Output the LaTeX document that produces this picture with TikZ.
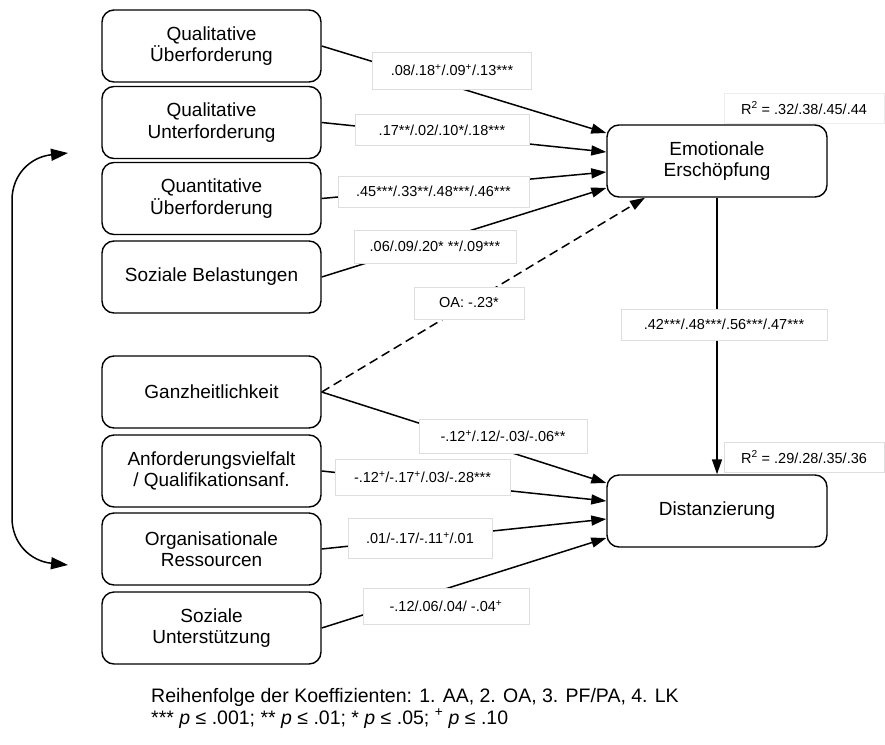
\documentclass[tikz,border=0pt]{standalone}
\usepackage{fontspec}
\setmainfont{Liberation Sans}
\usetikzlibrary{arrows.meta}

\begin{document}
\begin{tikzpicture}[x=1pt,y=-1pt,
  factor/.style={draw, line width=1.4pt, rounded corners=12pt,
    minimum width=219pt, minimum height=72pt, align=center,
    font=\fontsize{19}{21.5}\selectfont, inner sep=0pt},
  coef/.style={draw=black!13, line width=0.8pt, fill=white,
    font=\fontsize{14.5}{16}\selectfont, inner sep=0pt},
  effect/.style={line width=1.5pt, -{Triangle[length=15pt,width=10pt]}},
  corr/.style={line width=1.5pt,
    {Triangle[length=17pt,width=12pt]}-{Triangle[length=17pt,width=12pt]}},
]
\useasboundingbox (0,0) rectangle (885,744);

% stressors
\node[factor] (q1) at (211.5,46)    {Qualitative\\Überforderung};
\node[factor] (q2) at (211.5,122.5) {Qualitative\\Unterforderung};
\node[factor] (q3) at (211.5,198.5) {Quantitative\\Überforderung};
\node[factor] (q4) at (211.5,277)   {Soziale Belastungen};
% resources
\node[factor] (r1) at (211.5,392) {Ganzheitlichkeit};
\node[factor] (r2) at (211.5,471) {Anforderungsvielfalt\\/ Qualifikationsanf.};
\node[factor] (r3) at (211.5,549) {Organisationale\\Ressourcen};
\node[factor] (r4) at (211.5,628) {Soziale\\Unterstützung};
% outcomes
\node[factor, minimum width=220pt] (ee) at (717,161) {Emotionale\\Erschöpfung};
\node[factor, minimum width=220pt] (dz) at (717,511) {Distanzierung};

% paths to emotional exhaustion
\draw[effect] (q1.east) -- ([yshift=28pt]ee.west);
\draw[effect] (q2.east) -- ([yshift=9pt]ee.west);
\draw[effect] (q3.east) -- ([yshift=-11pt]ee.west);
\draw[effect] (q4.east) -- ([yshift=-27pt]ee.west);
\draw[effect, dash pattern=on 9pt off 5pt] (r1.east) -- ([xshift=-72pt]ee.south);
% paths to distancing
\draw[effect] (r1.east) -- ([yshift=28pt]dz.west);
\draw[effect] (r2.east) -- ([yshift=10pt]dz.west);
\draw[effect] (r3.east) -- ([yshift=-8pt]dz.west);
\draw[effect] (r4.east) -- ([yshift=-27pt]dz.west);
\draw[effect] (ee.south) -- (dz.north);

% correlation between stressor and resource blocks
\coordinate (ct) at (68,153);
\coordinate (cb) at (68,565);
\draw[corr] (ct) .. controls (30,157) and (12,175) .. (12,200) -- (12,518)
  .. controls (12,543) and (30,561) .. (cb);

% coefficients
\node[coef, minimum width=159pt, minimum height=37pt] (c1) at (452,70.5)
  {.08/.18\textsuperscript{+}/.09\textsuperscript{+}/.13***};
\node[coef, minimum width=174pt, minimum height=31pt] (c2) at (442,130)
  {.17**/.02/.10*/.18***};
\node[coef, minimum width=191pt, minimum height=31pt] (c3) at (433.5,191.5)
  {.45***/.33**/.48***/.46***};
\node[coef, minimum width=162pt, minimum height=33pt] (c4) at (435,246.5)
  {.06/.09/.20* **/.09***};
\node[coef, minimum width=110pt, minimum height=32pt] (c5) at (469,303)
  {OA: -.23*};
\node[coef, minimum width=206pt, minimum height=31pt] (c6) at (724,324.5)
  {.42***/.48***/.56***/.47***};
\node[coef, minimum width=168pt, minimum height=34pt] (c7) at (503,436)
  {-.12\textsuperscript{+}/.12/-.03/-.06**};
\node[coef, minimum width=175pt, minimum height=36pt] (c8) at (422.5,477)
  {-.12\textsuperscript{+}/-.17\textsuperscript{+}/.03/-.28***};
\node[coef, minimum width=144pt, minimum height=40pt] (c9) at (420,538)
  {.01/-.17/-.11\textsuperscript{+}/.01};
\node[coef, minimum width=166pt, minimum height=36pt] (c10) at (446,606)
  {-.12/.06/.04/ -.04\textsuperscript{+}};
% explained variance
\node[coef, draw=black!7, minimum width=160pt, minimum height=30pt] (rsq1) at (804,108)
  {R\textsuperscript{2} = .32/.38/.45/.44};
\node[coef, minimum width=160pt, minimum height=30pt] (rsq2) at (804,457)
  {R\textsuperscript{2} = .29/.28/.35/.36};

% legend
\node[anchor=west, align=left, inner sep=0pt, font=\fontsize{19.5}{22}\selectfont] (note) at (151,708)
  {Reihenfolge der Koeffizienten: 1. AA, 2. OA, 3. PF/PA, 4. LK\\
   *** \textit{p} ≤ .001; ** \textit{p} ≤ .01; * \textit{p} ≤ .05; \textsuperscript{+} \textit{p} ≤ .10};
\end{tikzpicture}
\end{document}
